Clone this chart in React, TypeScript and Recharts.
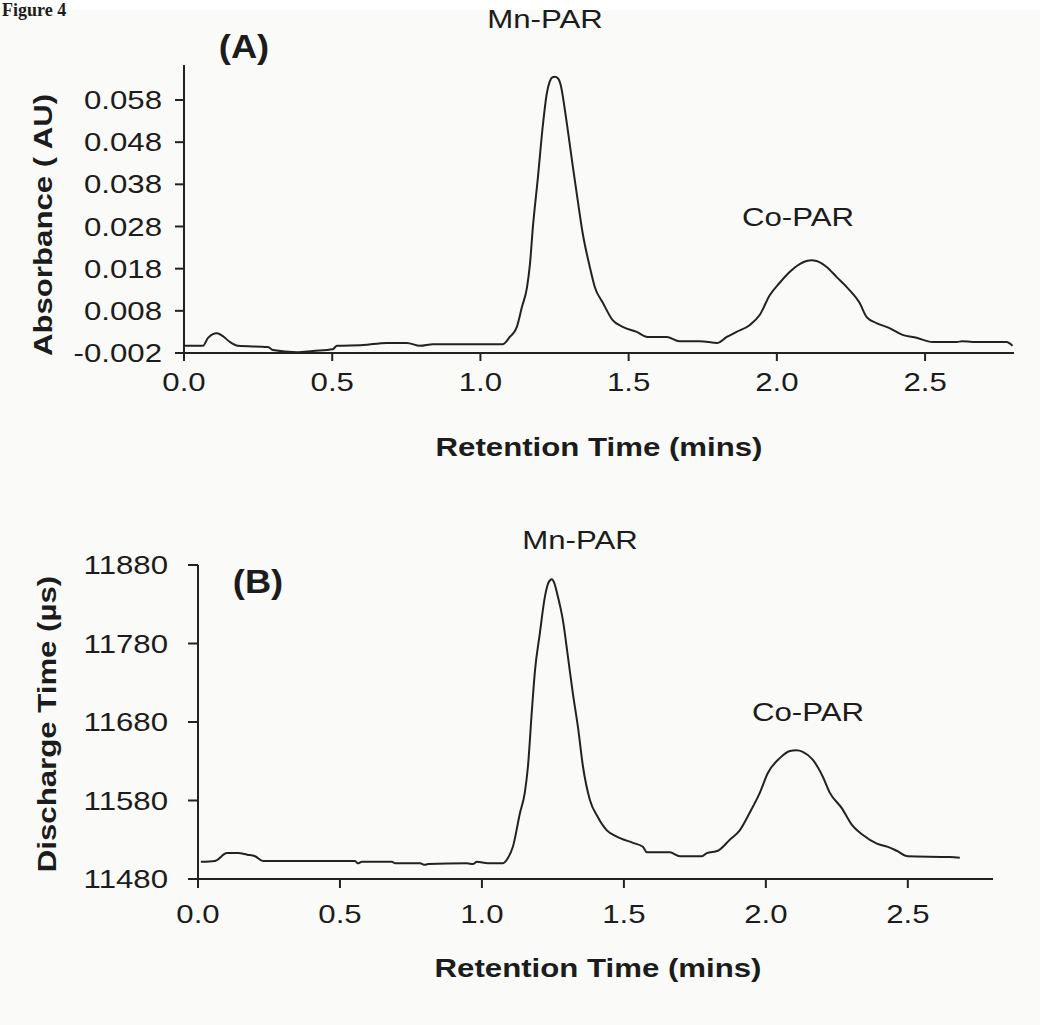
import React from 'react';
import { LineChart, Line, XAxis, YAxis } from 'recharts';

// Panel A: absorbance chromatogram
const timeA = [0.0, 0.064, 0.081, 0.111, 0.131, 0.155, 0.182, 0.283, 0.3, 0.381, 0.435, 0.502, 0.516, 0.604, 0.684, 0.752, 0.796, 0.84, 1.076, 1.099, 1.123, 1.14, 1.157, 1.167, 1.177, 1.194, 1.21, 1.224, 1.234, 1.243, 1.251, 1.262, 1.271, 1.285, 1.298, 1.312, 1.328, 1.345, 1.369, 1.386, 1.413, 1.446, 1.48, 1.527, 1.564, 1.628, 1.672, 1.74, 1.8, 1.831, 1.864, 1.908, 1.942, 1.976, 2.009, 2.043, 2.077, 2.1, 2.117, 2.134, 2.168, 2.202, 2.239, 2.279, 2.303, 2.336, 2.38, 2.424, 2.471, 2.525, 2.606, 2.626, 2.66, 2.775, 2.795];
const absA = [-0.0003, -0.0003, 0.0016, 0.0027, 0.002, 0.0006, -0.0003, -0.0006, -0.0013, -0.0018, -0.0015, -0.0011, -0.0003, -0.0001, 0.0004, 0.0004, -0.0003, 0.0001, 0.0001, 0.0018, 0.0042, 0.0089, 0.0135, 0.019, 0.0279, 0.0397, 0.0516, 0.0596, 0.0624, 0.0634, 0.0635, 0.0631, 0.0615, 0.0556, 0.0492, 0.0421, 0.0343, 0.0264, 0.0184, 0.0136, 0.0099, 0.0058, 0.0042, 0.003, 0.0018, 0.0018, 0.0008, 0.0008, 0.0004, 0.0018, 0.003, 0.0046, 0.007, 0.0117, 0.0146, 0.0172, 0.0191, 0.0198, 0.02, 0.0198, 0.0184, 0.016, 0.0134, 0.0099, 0.0065, 0.0051, 0.0039, 0.0023, 0.0016, 0.0006, 0.0006, 0.0008, 0.0006, 0.0006, -0.0003];

// Panel B: discharge time chromatogram
const timeB = [0.01, 0.06, 0.102, 0.141, 0.173, 0.201, 0.229, 0.553, 0.563, 0.577, 0.683, 0.694, 0.782, 0.799, 0.81, 0.947, 0.968, 0.982, 1.021, 1.074, 1.092, 1.109, 1.134, 1.151, 1.162, 1.176, 1.187, 1.204, 1.222, 1.235, 1.246, 1.255, 1.264, 1.285, 1.303, 1.32, 1.338, 1.356, 1.38, 1.408, 1.44, 1.475, 1.532, 1.567, 1.581, 1.662, 1.697, 1.775, 1.792, 1.831, 1.873, 1.908, 1.944, 1.979, 2.007, 2.049, 2.085, 2.107, 2.13, 2.165, 2.201, 2.225, 2.268, 2.303, 2.342, 2.391, 2.43, 2.461, 2.5, 2.648, 2.683];
const discB = [11502, 11503, 11513, 11513, 11511, 11509, 11503, 11503, 11500, 11502, 11502, 11500, 11500, 11498, 11499, 11500, 11499, 11502, 11500, 11500, 11507, 11521, 11564, 11590, 11623, 11695, 11746, 11793, 11840, 11858, 11862, 11857, 11845, 11810, 11763, 11717, 11674, 11623, 11581, 11559, 11542, 11534, 11526, 11521, 11514, 11514, 11509, 11509, 11513, 11516, 11530, 11542, 11565, 11590, 11615, 11634, 11643, 11644, 11642, 11632, 11610, 11590, 11570, 11549, 11536, 11525, 11521, 11516, 11509, 11508, 11507];

const xTicks = [0, 0.5, 1.0, 1.5, 2.0, 2.5];
const yTicksA = [-0.002, 0.008, 0.018, 0.028, 0.038, 0.048, 0.058];
const yTicksB = [11480, 11580, 11680, 11780, 11880];

const dataA = timeA.map((t, i) => ({ t, v: absA[i] }));
const dataB = timeB.map((t, i) => ({ t, v: discB[i] }));

const FONT = '"Liberation Sans", Arial, sans-serif';
const INK = '#1c1c1c';
const SX = 1.2;

const YTick = (props: any) => {
  const { x, y, payload, fmt } = props;
  return (
    <text transform={`translate(${x},${y}) scale(${SX},1)`} textAnchor="end" dominantBaseline="central"
      fontSize={26} fontFamily={FONT} fill={INK}>{fmt(payload.value)}</text>
  );
};

const XTick = (props: any) => {
  const { x, y, payload } = props;
  return (
    <text transform={`translate(${x},${y}) scale(${SX},1)`} textAnchor="middle" dominantBaseline="central"
      fontSize={26} fontFamily={FONT} fill={INK}>{Number(payload.value).toFixed(1)}</text>
  );
};

const T = ({ x, y, size = 26, bold = false, sx = SX, rot = 0, anchor = 'middle', family = FONT, base = 'central', children }: any) => (
  <text transform={`translate(${x},${y}) rotate(${rot}) scale(${sx},1)`} textAnchor={anchor} dominantBaseline={base}
    fontSize={size} fontWeight={bold ? 'bold' : 'normal'} fontFamily={family} fill={INK}>{children}</text>
);

const axisStyle = { stroke: '#222', strokeWidth: 2 };

export default function App() {
  return (
    <div style={{ position: 'absolute', left: 0, top: 0, width: 1040, height: 1025, background: '#fafaf8', overflow: 'hidden' }}>
      <div style={{ position: 'absolute', left: 0, top: 0, width: 1040, height: 10, background: '#ffffff' }} />
      <div style={{ position: 'absolute', left: 0, top: 0 }}>
        <LineChart width={1040} height={480} data={dataA} margin={{ top: 65, right: 26, left: 0, bottom: 67 }}>
          <XAxis dataKey="t" type="number" domain={[0, 2.8]} ticks={xTicks} allowDataOverflow height={60}
            axisLine={axisStyle} tickLine={axisStyle} tickSize={8} tickMargin={21} tick={<XTick />} />
          <YAxis type="number" domain={[-0.002, 0.0663]} ticks={yTicksA} allowDataOverflow width={184}
            axisLine={axisStyle} tickLine={axisStyle} tickSize={9} tickMargin={13}
            tick={<YTick fmt={(v: number) => v.toFixed(3)} />} />
          <Line type="monotoneX" dataKey="v" stroke="#222" strokeWidth={2} dot={false} isAnimationActive={false} />
        </LineChart>
      </div>
      <div style={{ position: 'absolute', left: 0, top: 480 }}>
        <LineChart width={1040} height={545} data={dataB} margin={{ top: 85, right: 47, left: 0, bottom: 86 }}>
          <XAxis dataKey="t" type="number" domain={[0, 2.8]} ticks={xTicks} allowDataOverflow height={60}
            axisLine={axisStyle} tickLine={axisStyle} tickSize={9} tickMargin={26} tick={<XTick />} />
          <YAxis type="number" domain={[11480, 11880]} ticks={yTicksB} allowDataOverflow width={198}
            axisLine={axisStyle} tickLine={axisStyle} tickSize={10} tickMargin={20}
            tick={<YTick fmt={(v: number) => String(v)} />} />
          <Line type="monotoneX" dataKey="v" stroke="#222" strokeWidth={2} dot={false} isAnimationActive={false} />
        </LineChart>
      </div>
      <svg width={1040} height={1025} style={{ position: 'absolute', left: 0, top: 0, pointerEvents: 'none' }}>
        <T x={2} y={16} size={18} bold sx={1} anchor="start" base="alphabetic" family='"Liberation Serif", "Times New Roman", serif'>Figure 4</T>
        <T x={244} y={47} size={33} bold sx={1.1}>(A)</T>
        <T x={545} y={19}>Mn-PAR</T>
        <T x={798} y={217}>Co-PAR</T>
        <T x={599} y={447} bold>Retention Time (mins)</T>
        <T x={43} y={225} bold rot={-90}>Absorbance ( AU)</T>
        <T x={258} y={582} size={33} bold sx={1.1}>(B)</T>
        <T x={580} y={540}>Mn-PAR</T>
        <T x={808} y={712}>Co-PAR</T>
        <T x={598} y={968} bold>Retention Time (mins)</T>
        <T x={47} y={724} bold rot={-90}>Discharge Time (µs)</T>
      </svg>
    </div>
  );
}
